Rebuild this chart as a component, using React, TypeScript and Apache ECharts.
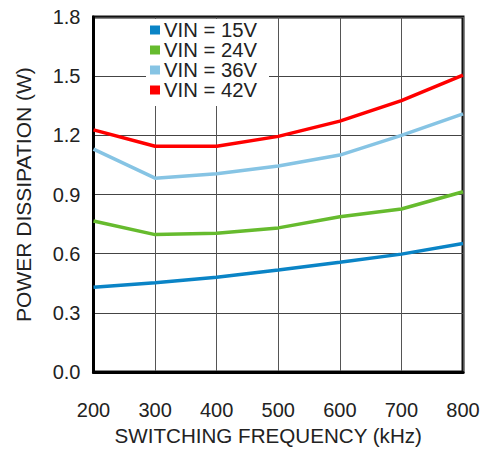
import React, { useEffect, useRef } from "react";
import * as echarts from "echarts";

const frequencies = [200, 300, 400, 500, 600, 700, 800];
const vin15 = [0.43, 0.453, 0.481, 0.518, 0.557, 0.598, 0.652];
const vin24 = [0.766, 0.697, 0.704, 0.731, 0.787, 0.827, 0.914];
const vin36 = [1.13, 0.983, 1.005, 1.045, 1.1, 1.2, 1.309];
const vin42 = [1.228, 1.145, 1.145, 1.195, 1.272, 1.376, 1.505];
const seriesNames = ["VIN = 15V", "VIN = 24V", "VIN = 36V", "VIN = 42V"];
const seriesColors = ["#0a84c6", "#66bb2e", "#86c4e4", "#ff0000"];
const yTicks = [0, 0.3, 0.6, 0.9, 1.2, 1.5, 1.8];

const FONT = "'Liberation Sans', Arial, sans-serif";

export default function App() {
  const ref = useRef<HTMLDivElement>(null);
  useEffect(() => {
    if (!ref.current) return;
    const chart = echarts.init(ref.current, undefined, { renderer: "svg" });
    const all = [vin15, vin24, vin36, vin42];
    chart.setOption({
      animation: false,
      textStyle: { fontFamily: FONT },
      grid: {
        left: 93.5,
        right: 30,
        top: 17,
        bottom: 75,
        show: true,
        borderColor: "#111",
        borderWidth: 3,
        backgroundColor: "transparent",
      },
      legend: {
        orient: "vertical",
        left: 146,
        top: 19,
        icon: "rect",
        itemWidth: 10,
        itemHeight: 9,
        itemGap: 0,
        padding: [1, 12, 6, 4],
        backgroundColor: "#ffffff",
        textStyle: {
          fontFamily: FONT,
          fontSize: 20.3,
          color: "#222",
          padding: [0, 0, 0, -1],
        },
        data: seriesNames,
      },
      xAxis: {
        type: "value",
        min: 200,
        max: 800,
        interval: 100,
        name: "SWITCHING FREQUENCY (kHz)",
        nameLocation: "middle",
        nameGap: 52,
        nameTextStyle: {
          fontFamily: FONT,
          fontSize: 20.6,
          color: "#222",
          padding: [0, 20, 0, 0],
        },
        axisLine: { show: true, lineStyle: { color: "#000", width: 3 } },
        axisTick: { show: false },
        axisLabel: { fontFamily: FONT, fontSize: 20, color: "#222", margin: 28 },
        splitLine: { show: true, lineStyle: { color: "#555", width: 1 } },
      },
      yAxis: {
        type: "value",
        min: 0,
        max: 1.8,
        interval: 0.3,
        name: "POWER DISSIPATION (W)",
        nameLocation: "middle",
        nameGap: 60,
        nameTextStyle: { fontFamily: FONT, fontSize: 21, color: "#222" },
        axisLine: { show: true, lineStyle: { color: "#000", width: 3 } },
        axisTick: { show: false },
        axisLabel: {
          fontFamily: FONT,
          fontSize: 20,
          color: "#222",
          margin: 13,
          formatter: (v: number) => (yTicks.includes(Math.round(v * 10) / 10) ? v.toFixed(1) : ""),
        },
        splitLine: { show: true, lineStyle: { color: "#444", width: 1 } },
      },
      series: all.map((vals, i) => ({
        name: seriesNames[i],
        type: "line",
        data: frequencies.map((f, j) => [f, vals[j]]),
        symbol: "none",
        lineStyle: { color: seriesColors[i], width: 3.5 },
        itemStyle: { color: seriesColors[i] },
        z: 2,
      })),
    });
    return () => chart.dispose();
  }, []);
  return (
    <div
      ref={ref}
      style={{ position: "absolute", left: 0, top: 0, width: 493, height: 451 }}
    />
  );
}
